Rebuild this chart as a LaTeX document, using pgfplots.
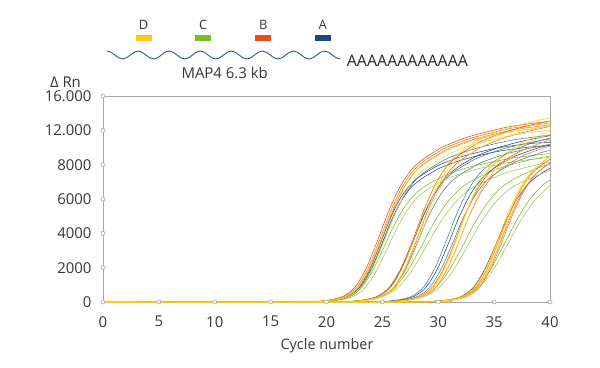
\documentclass[border=0pt]{standalone}
\usepackage{fontspec}
\setmainfont{Open Sans}
\usepackage{pgfplots}
\pgfplotsset{compat=1.18}
\definecolor{cRed}{RGB}{232,78,27}
\definecolor{cOrange}{RGB}{242,112,48}
\definecolor{cYel}{RGB}{255,200,0}
\definecolor{cYel2}{RGB}{250,212,50}
\definecolor{cBlue}{RGB}{28,74,135}
\definecolor{cBlue2}{RGB}{75,118,172}
\definecolor{cGreen}{RGB}{122,185,41}
\definecolor{cGreen2}{RGB}{152,202,82}
\definecolor{axisgray}{RGB}{168,168,168}
\definecolor{labelgray}{RGB}{55,55,55}
\definecolor{barD}{RGB}{255,200,0}
\definecolor{barC}{RGB}{122,185,41}
\definecolor{barB}{RGB}{232,78,27}
\definecolor{barA}{RGB}{25,75,130}
\definecolor{wave}{RGB}{40,90,150}
\begin{document}
\begin{tikzpicture}[x=1bp,y=1bp]
\useasboundingbox (0,0) rectangle (600,367);
% header diagram
\foreach \cx/\lab/\col in {143.7/D/barD,203.3/C/barC,263.2/B/barB,322.7/A/barA}{
  \node[font=\fontsize{13}{15}\selectfont, text=labelgray, inner sep=0pt] at (\cx,341.7) {\lab};
  \fill[\col] (\cx-8,326.3) rectangle (\cx+8,332);
}
\draw[wave, line width=0.9bp] (107,316)
  \foreach \i in {0,...,6} { cos ++(7.77,-4) sin ++(7.77,-4) cos ++(7.77,4) sin ++(7.77,4) }
  cos ++(7.77,-4) sin ++(7.77,-4);
\node[font=\fontsize{16}{18}\selectfont, text=black!85, inner sep=0pt, anchor=west] at (346.7,306.3) {AAAAAAAAAAAA};
\node[font=\fontsize{15}{17}\selectfont, text=labelgray, inner sep=0pt] at (224.7,294) {MAP4 6.3 kb};
\node[font=\fontsize{15}{17}\selectfont, text=labelgray, inner sep=0pt] at (65.5,285) {Δ Rn};
\node[font=\fontsize{14.5}{16}\selectfont, text=labelgray, inner sep=0pt, anchor=base] at (327,17.7) {Cycle number};
\begin{axis}[
  at={(103bp,65bp)}, anchor=south west,
  scale only axis, width=447bp, height=206bp,
  xmin=0, xmax=40, ymin=0, ymax=12000,
  clip=false,
  axis line style={draw=axisgray, line width=0.7bp},
  xtick={0,5,...,40}, ytick={0,2000,4000,6000,8000,10000,12000},
  yticklabels={0,2000,4000,6000,8000,12.000,16.000},
  major tick length=0pt,
  tick label style={font=\fontsize{15}{17}\selectfont, text=labelgray},
  xticklabel style={anchor=north, inner sep=0pt, yshift=-14bp},
  yticklabel style={anchor=east, inner sep=0pt, xshift=-11.3bp},
  scaled y ticks=false,
  /pgf/number format/assume math mode=true,
  every axis plot/.append style={line width=0.55bp, smooth},
]
% blue
\addplot[cBlue] coordinates {(0,0)(18.5,0)(20.3,64)(21.2,138)(22.1,322)(23.0,782)(23.9,1748)(24.8,3128)(25.7,4600)(26.6,5796)(27.5,6624)(28.4,7130)(29.3,7498)(30.2,7820)(32.0,8252)(33.8,8556)(35.6,8804)(38.3,9034)(40,9108)};
\addplot[cBlue] coordinates {(0,0)(18.4,0)(20.2,66)(21.1,141)(22.0,329)(22.9,799)(23.8,1786)(24.7,3196)(25.6,4700)(26.5,5922)(27.4,6768)(28.3,7285)(29.2,7661)(30.1,7990)(31.9,8432)(33.7,8742)(35.5,8996)(38.2,9231)(40,9306)};
\addplot[cBlue2] coordinates {(0,0)(18,0)(20,69)(21,149)(22,347)(23,842)(24,1881)(25,3366)(26,4950)(27,6237)(28,7128)(29,7673)(30,8069)(31,8415)(33,8880)(35,9207)(37,9474)(40,9722)};
\addplot[cBlue] coordinates {(0,0)(20.7,0)(22.7,71)(23.7,152)(24.7,354)(25.7,859)(26.7,1919)(27.7,3434)(28.7,5050)(29.7,6363)(30.7,7272)(31.7,7828)(32.7,8232)(33.7,8585)(35.7,9060)(37.7,9393)(40,9691)};
\addplot[cBlue2] coordinates {(0,0)(20.6,0)(22.6,69)(23.6,149)(24.6,347)(25.6,842)(26.6,1881)(27.6,3366)(28.6,4950)(29.6,6237)(30.6,7128)(31.6,7673)(32.6,8069)(33.6,8415)(35.6,8880)(37.6,9207)(40,9507)};
\addplot[cBlue2] coordinates {(0,0)(21,0)(23,67)(24,144)(25,336)(26,816)(27,1824)(28,3264)(29,4800)(30,6048)(31,6912)(32,7440)(33,7824)(34,8160)(36,8611)(38,8928)(40,9187)};
\addplot[cBlue] coordinates {(0,0)(23.9,0)(25.9,70)(26.9,150)(27.9,350)(28.9,850)(29.9,1900)(30.9,3400)(31.9,5000)(32.9,6300)(33.9,7200)(34.9,7750)(35.9,8150)(36.9,8500)(38.9,8970)(40,9150)};
\addplot[cBlue2] coordinates {(0,0)(23.7,0)(25.7,73)(26.7,156)(27.7,364)(28.7,884)(29.7,1976)(30.7,3536)(31.7,5200)(32.7,6552)(33.7,7488)(34.7,8060)(35.7,8476)(36.7,8840)(38.7,9329)(40,9552)};
\addplot[cBlue2] coordinates {(0,0)(24.2,0)(26.2,68)(27.2,146)(28.2,340)(29.2,825)(30.2,1843)(31.2,3298)(32.2,4850)(33.2,6111)(34.2,6984)(35.2,7518)(36.2,7906)(37.2,8245)(39.2,8701)(40,8827)};
\addplot[cBlue] coordinates {(0,0)(28.1,0)(30.1,67)(31.1,144)(32.1,336)(33.1,816)(34.1,1824)(35.1,3264)(36.1,4800)(37.1,6048)(38.1,6912)(39.1,7440)(40,7786)};
% green
\addplot[cGreen] coordinates {(0,0)(18,0)(20,62)(21,132)(22,308)(23,748)(24,1672)(25,2992)(26,4400)(27,5544)(28,6336)(29,6820)(30,7172)(31,7480)(33,7894)(35,8184)(37,8422)(40,8642)};
\addplot[cGreen2] coordinates {(0,0)(18.3,0)(20.3,60)(21.3,129)(22.3,301)(23.3,731)(24.3,1634)(25.3,2924)(26.3,4300)(27.3,5418)(28.3,6192)(29.3,6665)(30.3,7009)(31.3,7310)(33.3,7714)(35.3,7998)(37.3,8230)(40,8424)};
\addplot[cGreen] coordinates {(0,0)(20,0)(22.4,64)(23.6,138)(24.8,322)(26.0,782)(27.2,1748)(28.4,3128)(29.6,4600)(30.8,5796)(32.0,6624)(33.2,7130)(34.4,7498)(35.6,7820)(38.0,8252)(40,8505)};
\addplot[cGreen2] coordinates {(0,0)(20,0)(22.5,62)(23.75,134)(25,312)(26.25,757)(27.5,1691)(28.75,3026)(30,4450)(31.25,5607)(32.5,6408)(33.75,6898)(35,7254)(36.25,7565)(38.75,7983)(40,8130)};
\addplot[cGreen] coordinates {(0,0)(23.7,0)(26.1,65)(27.3,140)(28.5,326)(29.7,791)(30.9,1767)(32.1,3162)(33.3,4650)(34.5,5859)(35.7,6696)(36.9,7208)(38.1,7580)(39.3,7905)(40,8032)};
\addplot[cGreen2] coordinates {(0,0)(23.7,0)(26.2,63)(27.45,135)(28.7,315)(29.95,765)(31.2,1710)(32.45,3060)(33.7,4500)(34.95,5670)(36.2,6480)(37.45,6975)(38.7,7335)(40,7659)};
\addplot[cGreen] coordinates {(0,0)(27.4,0)(29.8,67)(31.0,143)(32.2,333)(33.4,808)(34.6,1805)(35.8,3230)(37.0,4750)(38.2,5985)(39.4,6840)(40,7101)};
\addplot[cGreen2] coordinates {(0,0)(27.3,0)(29.8,65)(31.05,140)(32.3,326)(33.55,791)(34.8,1767)(36.05,3162)(37.3,4650)(38.55,5859)(40,6780)};
% red
\addplot[cRed] coordinates {(0,0)(17.6,0)(19.6,75)(20.6,161)(21.6,375)(22.6,910)(23.6,2033)(24.6,3638)(25.6,5350)(26.6,6741)(27.6,7704)(28.6,8293)(29.6,8721)(30.6,9095)(32.6,9598)(34.6,9951)(36.6,10240)(40,10529)};
\addplot[cOrange] coordinates {(0,0)(17.75,0)(19.75,74)(20.75,159)(21.75,371)(22.75,901)(23.75,2014)(24.75,3604)(25.75,5300)(26.75,6678)(27.75,7632)(28.75,8215)(29.75,8639)(30.75,9010)(32.75,9508)(34.75,9858)(36.75,10144)(40,10430)};
\addplot[cOrange] coordinates {(0,0)(17.9,0)(19.9,74)(20.9,158)(21.9,368)(22.9,893)(23.9,1995)(24.9,3570)(25.9,5250)(26.9,6615)(27.9,7560)(28.9,8138)(29.9,8558)(30.9,8925)(32.9,9419)(34.9,9765)(36.9,10049)(40,10322)};
\addplot[cRed] coordinates {(0,0)(20.8,0)(22.8,77)(23.8,165)(24.8,385)(25.8,935)(26.8,2090)(27.8,3740)(28.8,5500)(29.8,6930)(30.8,7920)(31.8,8525)(32.8,8965)(33.8,9350)(35.8,9867)(37.8,10230)(40,10546)};
\addplot[cOrange] coordinates {(0,0)(21.1,0)(23.1,75)(24.1,161)(25.1,375)(26.1,910)(27.1,2033)(28.1,3638)(29.1,5350)(30.1,6741)(31.1,7704)(32.1,8293)(33.1,8721)(34.1,9095)(36.1,9598)(38.1,9951)(40,10226)};
\addplot[cRed] coordinates {(0,0)(24.5,0)(26.5,73)(27.5,156)(28.5,364)(29.5,884)(30.5,1976)(31.5,3536)(32.5,5200)(33.5,6552)(34.5,7488)(35.5,8060)(36.5,8476)(37.5,8840)(39.5,9329)(40,9415)};
\addplot[cOrange] coordinates {(0,0)(24.8,0)(26.8,71)(27.8,152)(28.8,354)(29.8,859)(30.8,1919)(31.8,3434)(32.8,5050)(33.8,6363)(34.8,7272)(35.8,7828)(36.8,8232)(37.8,8585)(40,9093)};
\addplot[cRed] coordinates {(0,0)(28.4,0)(30.4,73)(31.4,156)(32.4,364)(33.4,884)(34.4,1976)(35.4,3536)(36.4,5200)(37.4,6552)(38.4,7488)(39.4,8060)(40,8310)};
\addplot[cOrange] coordinates {(0,0)(28.55,0)(30.55,71)(31.55,153)(32.55,357)(33.55,867)(34.55,1938)(35.55,3468)(36.55,5100)(37.55,6426)(38.55,7344)(39.55,7905)(40,8084)};
\addplot[cOrange] coordinates {(0,0)(28.7,0)(30.7,72)(31.7,155)(32.7,361)(33.7,876)(34.7,1957)(35.7,3502)(36.7,5150)(37.7,6489)(38.7,7416)(40,8106)};
% yellow
\addplot[cYel] coordinates {(0,0)(17.8,0)(19.8,73)(20.8,156)(21.8,364)(22.8,884)(23.8,1976)(24.8,3536)(25.8,5200)(26.8,6552)(27.8,7488)(28.8,8060)(29.8,8476)(30.8,8840)(32.8,9329)(34.8,9672)(36.8,9953)(40,10230)};
\addplot[cYel2] coordinates {(0,0)(18.1,0)(20.1,71)(21.1,153)(22.1,357)(23.1,867)(24.1,1938)(25.1,3468)(26.1,5100)(27.1,6426)(28.1,7344)(29.1,7905)(30.1,8313)(31.1,8670)(33.1,9149)(35.1,9486)(37.1,9761)(40,10008)};
\addplot[cYel] coordinates {(0,0)(20.9,0)(22.9,78)(23.9,168)(24.9,392)(25.9,952)(26.9,2128)(27.9,3808)(28.9,5600)(29.9,7056)(30.9,8064)(31.9,8680)(32.9,9128)(33.9,9520)(35.9,10046)(37.9,10416)(40,10727)};
\addplot[cYel2] coordinates {(0,0)(21.1,0)(23.1,77)(24.1,165)(25.1,385)(26.1,935)(27.1,2090)(28.1,3740)(29.1,5500)(30.1,6930)(31.1,7920)(32.1,8525)(33.1,8965)(34.1,9350)(36.1,9867)(38.1,10230)(40,10513)};
\addplot[cYel2] coordinates {(0,0)(21.3,0)(23.3,76)(24.3,162)(25.3,378)(26.3,918)(27.3,2052)(28.3,3672)(29.3,5400)(30.3,6804)(31.3,7776)(32.3,8370)(33.3,8802)(34.3,9180)(36.3,9688)(38.3,10044)(40,10292)};
\addplot[cYel] coordinates {(0,0)(24.6,0)(26.6,76)(27.6,162)(28.6,378)(29.6,918)(30.6,2052)(31.6,3672)(32.6,5400)(33.6,6804)(34.6,7776)(35.6,8370)(36.6,8802)(37.6,9180)(39.6,9688)(40,9759)};
\addplot[cYel2] coordinates {(0,0)(24.7,0)(26.7,77)(27.7,165)(28.7,385)(29.7,935)(30.7,2090)(31.7,3740)(32.7,5500)(33.7,6930)(34.7,7920)(35.7,8525)(36.7,8965)(37.7,9350)(40,9922)};
\addplot[cYel2] coordinates {(0,0)(24.9,0)(26.9,74)(27.9,158)(28.9,368)(29.9,893)(30.9,1995)(31.9,3570)(32.9,5250)(33.9,6615)(34.9,7560)(35.9,8138)(36.9,8558)(37.9,8925)(40,9436)};
\addplot[cYel] coordinates {(0,0)(28.3,0)(30.3,74)(31.3,158)(32.3,368)(33.3,893)(34.3,1995)(35.3,3570)(36.3,5250)(37.3,6615)(38.3,7560)(39.3,8138)(40,8432)};
\addplot[cYel] coordinates {(0,0)(28.45,0)(30.45,74)(31.45,159)(32.45,371)(33.45,901)(34.45,2014)(35.45,3604)(36.45,5300)(37.45,6678)(38.45,7632)(39.45,8215)(40,8448)};
\addplot[cYel2] coordinates {(0,0)(28.6,0)(30.6,75)(31.6,161)(32.6,375)(33.6,910)(34.6,2033)(35.6,3638)(36.6,5350)(37.6,6741)(38.6,7704)(39.6,8293)(40,8464)};
% tick circles
\addplot[only marks, mark=*, mark size=2bp, mark options={draw=axisgray, fill=white, line width=0.6bp}] coordinates {(0,0)(5,0)(10,0)(15,0)(20,0)(25,0)(30,0)(35,0)(40,0)(0,2000)(0,4000)(0,6000)(0,8000)(0,10000)(0,12000)};
\end{axis}
\end{tikzpicture}
\end{document}
